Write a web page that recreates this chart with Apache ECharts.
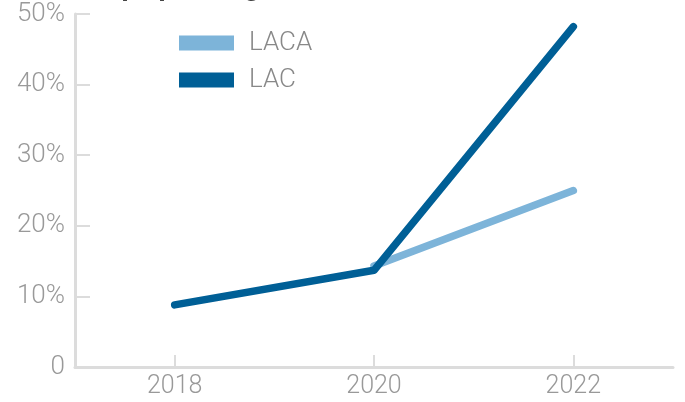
<!DOCTYPE html>
<html>
<head>
<meta charset="utf-8">
<script src="https://cdn.jsdelivr.net/npm/echarts@6/dist/echarts.min.js"></script>
<style>
  html, body { margin: 0; padding: 0; background: #fff; }
  #main { width: 685px; height: 402px; }
</style>
</head>
<body>
<div id="main"></div>
<script>
'use strict';

const years = [2018, 2020, 2022];
const laca = [null, 14.3, 25.0];
const lac = [8.8, 13.7, 48.2];
const yTicks = [0, 10, 20, 30, 40, 50];

const axisGrey = '#dcdcdc';
const labelGrey = '#999';
const font = 'Roboto';

let myChart = echarts.init(document.getElementById('main'));

function pairs(xs, ys) {
  return xs.map(function(x, i) { return [x, ys[i]]; });
}

let option = {
  animation: false,
  title: {
    text: 'Group spending',
    left: 56,
    top: -31,
    textStyle: { color: '#444', fontSize: 28, fontWeight: 'bold', fontFamily: font }
  },
  legend: {
    orient: 'vertical',
    left: 174,
    top: 25,
    itemWidth: 55,
    itemHeight: 15,
    itemGap: 11,
    icon: 'rect',
    textStyle: { color: '#888', fontSize: 26, fontFamily: font, fontWeight: 300, padding: [0, 0, 0, 10] },
    data: ['LACA', 'LAC']
  },
  grid: { left: 75, right: 12, top: 14, bottom: 35 },
  xAxis: {
    type: 'value',
    min: 2017,
    max: 2023,
    splitLine: { show: false },
    axisLine: { lineStyle: { color: axisGrey, width: 3 } },
    axisTick: { inside: true, length: 12, customValues: years, lineStyle: { color: axisGrey, width: 2 } },
    axisLabel: {
      customValues: years,
      color: labelGrey,
      fontSize: 25,
      fontFamily: font,
      fontWeight: 300,
      margin: 7,
      formatter: function(v) { return String(v); }
    }
  },
  yAxis: {
    type: 'value',
    min: 0,
    max: 50,
    interval: 10,
    splitLine: { show: false },
    axisLine: { show: true, lineStyle: { color: axisGrey, width: 3 } },
    axisTick: { show: true, inside: true, length: 15, customValues: yTicks, lineStyle: { color: axisGrey, width: 2 } },
    axisLabel: {
      color: labelGrey,
      fontSize: 26,
      fontFamily: font,
      fontWeight: 300,
      margin: 10,
      formatter: function(v) { return v === 0 ? '0' : v + '%'; }
    }
  },
  series: [
    {
      name: 'LACA',
      type: 'line',
      data: pairs(years, laca),
      symbol: 'none',
      color: '#7db4d9',
      lineStyle: { width: 7.5, cap: 'round', join: 'round' }
    },
    {
      name: 'LAC',
      type: 'line',
      data: pairs(years, lac),
      symbol: 'none',
      color: '#005f96',
      lineStyle: { width: 7.5, cap: 'round', join: 'round' }
    }
  ]
};

myChart.setOption(option);
</script>
</body>
</html>
